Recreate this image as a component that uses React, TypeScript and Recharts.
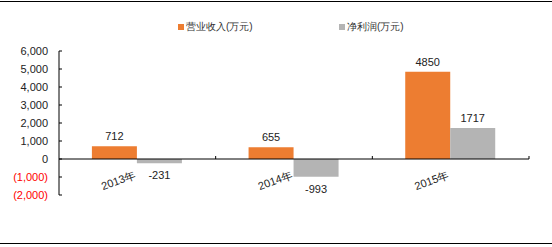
import React from "react";
import { BarChart, Bar, XAxis, YAxis, ReferenceLine, LabelList } from "recharts";

const years = ["2013年", "2014年", "2015年"];
const revenue = [712, 655, 4850];
const netProfit = [-231, -993, 1717];
const yTicks = [-2000, -1000, 0, 1000, 2000, 3000, 4000, 5000, 6000];

const REVENUE_NAME = "营业收入(万元)";
const PROFIT_NAME = "净利润(万元)";
const ORANGE = "#ED7D31";
const GREY = "#B4B4B4";
const FONT = "'Liberation Sans', Arial, sans-serif";

const W = 552;
const H = 247;
const margin = { top: 51, right: 23, bottom: 22, left: 0 };
const Y_AXIS_W = 59;
const X_AXIS_H = 30;

const plotW = W - margin.left - margin.right - Y_AXIS_W;
const plotH = H - margin.top - margin.bottom - X_AXIS_H;
const yMin = yTicks[0];
const yMax = yTicks[yTicks.length - 1];
const zeroY = margin.top + (plotH * yMax) / (yMax - yMin);
const band = plotW / years.length;

const data = years.map((year, i) => ({
  year,
  revenue: revenue[i],
  netProfit: netProfit[i],
}));

const fmtTick = (v: number) =>
  v < 0 ? `(${Math.abs(v).toLocaleString("en-US")})` : v.toLocaleString("en-US");

function YTick(props: any) {
  const { x, y, payload } = props;
  const v = payload.value as number;
  return (
    <g>
      <line x1={x} x2={x + 3} y1={y} y2={y} stroke="#000" />
      <text
        x={x - 11}
        y={y}
        dy={4}
        textAnchor="end"
        fontSize={11}
        fontFamily={FONT}
        fill={v < 0 ? "#FF0000" : "#222"}
      >
        {fmtTick(v)}
      </text>
    </g>
  );
}

function XTick(props: any) {
  const { x, payload } = props;
  const tx = x - 1;
  const ty = zeroY + 19;
  return (
    <g>
      <line x1={x + band / 2} x2={x + band / 2} y1={zeroY} y2={zeroY - 3} stroke="#000" />
      <text
        x={tx}
        y={ty}
        textAnchor="end"
        fontSize={11}
        fontFamily={FONT}
        fill="#222"
        transform={`rotate(-20 ${tx} ${ty})`}
      >
        {payload.value}
      </text>
    </g>
  );
}

function ValueLabel(props: any) {
  const { x, y, width, height, value } = props;
  const top = Math.min(y, y + height);
  const bottom = Math.max(y, y + height);
  const cx = x + width / 2;
  const ty = value >= 0 ? top - 6 : bottom + 16;
  return (
    <text x={cx} y={ty} textAnchor="middle" fontSize={11} fontFamily={FONT} fill="#222">
      {value}
    </text>
  );
}

function LegendItem({ color, label, left }: { color: string; label: string; left: number }) {
  return (
    <div
      style={{
        position: "absolute",
        left,
        top: 20,
        height: 14,
        display: "flex",
        alignItems: "center",
        whiteSpace: "nowrap",
      }}
    >
      <span style={{ width: 6, height: 6, background: color, marginRight: 2 }} />
      <span style={{ fontSize: 10, color: "#333", fontFamily: FONT }}>{label}</span>
    </div>
  );
}

export default function App() {
  return (
    <div style={{ position: "absolute", left: 0, top: 0, width: W, height: H, background: "#fff" }}>
      <div style={{ position: "absolute", left: 0, top: 1, width: W, borderTop: "1.5px solid #000" }} />
      <div style={{ position: "absolute", left: 0, top: 243, width: W, borderTop: "1.5px solid #000" }} />
      <LegendItem color={ORANGE} label={REVENUE_NAME} left={178} />
      <LegendItem color={GREY} label={PROFIT_NAME} left={339} />
      <BarChart
        width={W}
        height={H}
        data={data}
        margin={margin}
        barCategoryGap="21%"
        barGap={0}
      >
        <XAxis
          dataKey="year"
          height={X_AXIS_H}
          axisLine={false}
          tickLine={false}
          tick={<XTick />}
          interval={0}
        />
        <YAxis
          width={Y_AXIS_W}
          domain={[yMin, yMax]}
          ticks={yTicks}
          interval={0}
          axisLine={{ stroke: "#000" }}
          tickLine={false}
          tickSize={0}
          tickMargin={0}
          tick={<YTick />}
        />
        <Bar dataKey="revenue" name={REVENUE_NAME} fill={ORANGE} isAnimationActive={false}>
          <LabelList dataKey="revenue" content={<ValueLabel />} />
        </Bar>
        <Bar dataKey="netProfit" name={PROFIT_NAME} fill={GREY} isAnimationActive={false}>
          <LabelList dataKey="netProfit" content={<ValueLabel />} />
        </Bar>
        <ReferenceLine y={0} stroke="#000" strokeWidth={1} />
      </BarChart>
    </div>
  );
}
